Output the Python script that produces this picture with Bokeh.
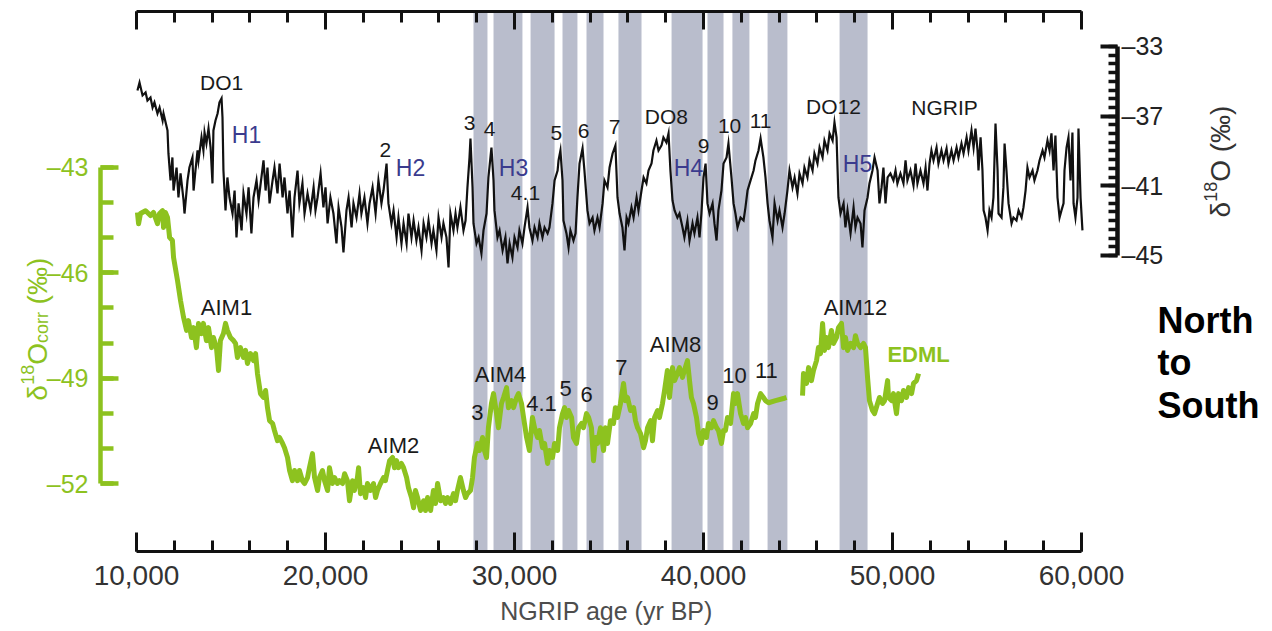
import math
from bokeh.plotting import figure
from bokeh.models import Range1d, LinearAxis, FixedTicker, BoxAnnotation, Label
from bokeh.core.properties import value
from bokeh.embed import file_html
from bokeh.resources import INLINE

NAN = float("nan")

# ---------------- data ----------------
# NGRIP d18O (permil) vs NGRIP age (yr BP)
ngrip_pts = [
    (10050,-35.53),(10160,-35.07),(10320,-35.81),(10480,-35.64),(10580,-36.10),(10740,-35.93),(10850,-36.50),
    (10950,-36.21),(11110,-36.85),(11220,-36.50),(11380,-37.25),(11430,-36.85),(11640,-37.82),(11690,-39.14),
    (11800,-40.69),(11900,-39.37),(11960,-41.27),(12120,-39.95),(12220,-41.67),(12330,-40.29),(12490,-41.84),
    (12540,-42.59),(12700,-40.69),(12800,-39.95),(12960,-39.37),(13020,-41.27),(13120,-40.12),(13230,-38.97),
    (13280,-39.54),(13440,-38.22),(13540,-38.97),(13600,-37.94),(13700,-38.57),(13810,-37.71),(13920,-38.80),
    (14020,-40.86),(14070,-37.82),(14180,-37.25),(14290,-36.85),(14390,-36.21),(14500,-35.98),(14550,-37.08),
    (14600,-40.12),(14710,-42.41),(14810,-40.52),(14920,-41.67),(15080,-42.59),(15190,-41.27),(15290,-43.96),
    (15400,-42.01),(15560,-43.56),(15660,-41.44),(15820,-42.59),(15930,-41.09),(16080,-43.73),(16190,-41.67),
    (16350,-40.69),(16460,-41.84),(16610,-40.52),(16720,-39.54),(16830,-41.27),(16930,-39.95),(17040,-42.01),
    (17200,-40.69),(17300,-39.95),(17460,-41.44),(17570,-39.72),(17730,-41.67),(17830,-40.52),(17990,-42.59),
    (18100,-41.27),(18250,-43.96),(18360,-41.67),(18520,-40.12),(18620,-42.01),(18780,-40.86),(18890,-42.59),
    (19050,-41.44),(19210,-42.41),(19370,-41.09),(19470,-42.41),(19580,-41.67),(19740,-40.29),(19890,-42.24),
    (20000,-41.09),(20110,-43.16),(20260,-41.67),(20420,-42.59),(20580,-44.31),(20690,-42.24),(20850,-43.39),
    (20950,-44.82),(21110,-42.41),(21220,-41.67),(21380,-43.39),(21480,-42.01),(21640,-42.82),(21800,-41.44),
    (21900,-42.59),(22060,-41.67),(22220,-43.16),(22330,-42.01),(22490,-41.09),(22650,-42.59),(22800,-40.69),
    (22960,-42.01),(23070,-41.27),(23230,-39.72),(23330,-42.01),(23490,-43.16),(23600,-42.41),(23760,-43.96),
    (23860,-42.82),(24020,-44.31),(24130,-43.16),(24290,-44.31),(24390,-42.59),(24550,-43.96),(24660,-42.99),
    (24810,-44.14),(24920,-43.39),(25080,-44.71),(25190,-43.16),(25340,-43.96),(25450,-42.99),(25610,-44.31),
    (25710,-43.56),(25870,-44.71),(25980,-42.82),(26140,-43.96),(26240,-43.16),(26400,-43.96),(26510,-45.69),
    (26610,-42.59),(26770,-43.56),(26880,-42.59),(26980,-43.39),(27140,-42.24),(27300,-43.56),(27410,-42.99),
    (27510,-41.09),(27620,-39.37),(27670,-38.28),(27780,-41.09),(27830,-43.16),(27990,-44.31),(28100,-43.96),
    (28250,-44.88),(28360,-43.56),(28520,-42.59),(28620,-40.52),(28780,-38.80),(28890,-40.69),(28940,-42.41),
    (29100,-43.96),(29210,-43.56),(29370,-44.71),(29520,-43.96),(29630,-45.46),(29740,-44.31),(29890,-45.11),
    (30000,-43.96),(30160,-44.54),(30260,-43.56),(30420,-44.31),(30530,-43.39),(30690,-42.24),(30790,-43.39),
    (30950,-44.14),(31060,-43.39),(31220,-43.96),(31320,-43.16),(31480,-43.96),(31590,-43.39),(31750,-43.73),
    (31850,-43.39),(32010,-42.01),(32120,-40.69),(32280,-40.12),(32330,-39.54),(32430,-38.97),(32540,-40.69),
    (32590,-42.99),(32750,-43.73),(32860,-44.54),(32960,-43.56),(33120,-44.14),(33230,-43.73),(33330,-41.67),
    (33440,-39.72),(33600,-38.85),(33700,-40.12),(33860,-42.41),(33970,-43.16),(34130,-42.82),(34230,-43.56),
    (34390,-42.82),(34500,-43.39),(34660,-42.01),(34760,-40.69),(34920,-41.09),(35030,-39.95),(35190,-39.14),
    (35340,-38.68),(35450,-41.67),(35560,-42.59),(35710,-43.39),(35820,-44.71),(35930,-42.82),(36030,-43.16),
    (36190,-42.24),(36300,-42.82),(36460,-41.67),(36560,-42.41),(36720,-41.27),(36830,-40.52),(36980,-40.86),
    (37090,-40.12),(37250,-39.72),(37350,-38.97),(37510,-38.40),(37620,-38.97),(37780,-38.68),(37880,-38.22),
    (38040,-38.51),(38150,-37.99),(38250,-40.12),(38360,-41.84),(38470,-42.41),(38620,-42.82),(38730,-42.59),
    (38890,-43.39),(38990,-43.96),(39150,-42.99),(39260,-44.14),(39420,-43.16),(39520,-43.73),(39680,-42.82),
    (39790,-43.96),(39890,-42.59),(40000,-40.52),(40110,-39.72),(40210,-42.01),(40320,-42.59),(40480,-42.01),
    (40580,-43.16),(40690,-44.14),(40790,-42.41),(40950,-41.27),(41060,-39.72),(41220,-39.37),(41320,-38.57),
    (41480,-40.52),(41590,-42.01),(41690,-42.59),(41800,-43.39),(41960,-42.82),(42120,-42.99),(42220,-42.24),
    (42330,-41.27),(42490,-40.69),(42650,-40.12),(42750,-39.54),(42910,-38.97),(43020,-38.28),(43170,-39.37),
    (43280,-40.52),(43390,-42.01),(43490,-42.99),(43650,-43.96),(43760,-42.01),(43920,-42.99),(44020,-42.41),
    (44180,-43.39),(44290,-42.59),(44440,-41.27),(44550,-40.12),(44710,-41.09),(44820,-40.52),(44970,-41.44),
    (45080,-40.29),(45240,-40.86),(45340,-39.95),(45500,-40.52),(45610,-39.54),(45770,-40.12),(45870,-39.14),
    (46030,-39.72),(46140,-38.80),(46300,-39.37),(46400,-38.40),(46560,-38.97),(46670,-37.99),(46830,-38.40),
    (46930,-37.36),(47040,-38.22),(47140,-41.67),(47250,-42.59),(47410,-42.01),(47510,-43.39),(47620,-42.41),
    (47780,-43.73),(47940,-42.24),(48040,-43.39),(48150,-42.82),(48310,-43.16),(48410,-44.54),(48520,-42.41),
    (48680,-41.67),(48780,-40.86),(48940,-40.12),(49050,-39.37),(49210,-40.12),(49310,-42.01),(49420,-41.09),
    (49520,-39.95),(49630,-42.01),(49740,-40.52),(49890,-40.29),(50050,-40.69),(50160,-40.12),(50260,-40.86),
    (50420,-40.29),(50580,-40.86),(50690,-39.54),(50790,-40.69),(50950,-40.12),(51110,-40.98),(51220,-39.72),
    (51320,-40.86),(51480,-40.12),(51640,-40.86),(51750,-39.95),(51850,-41.27),(51960,-39.72),(52060,-38.97),
    (52170,-39.54),(52330,-38.80),(52430,-39.72),(52590,-38.97),(52700,-39.54),(52860,-38.85),(52960,-39.72),
    (53120,-38.97),(53230,-39.54),(53390,-38.80),(53490,-39.37),(53650,-38.57),(53760,-39.14),(53920,-38.22),
    (54020,-38.97),(54180,-37.82),(54290,-38.80),(54390,-37.71),(54500,-38.97),(54550,-40.12),(54660,-38.22),
    (54760,-40.12),(54820,-42.41),(54920,-42.82),(55030,-43.56),(55130,-42.41),(55240,-42.82),(55340,-41.67),
    (55450,-37.42),(55560,-40.12),(55610,-42.59),(55770,-42.82),(55870,-41.09),(55930,-38.57),(56030,-40.12),
    (56140,-42.01),(56300,-43.16),(56400,-42.82),(56560,-42.99),(56670,-42.41),(56830,-42.82),(56930,-42.24),
    (57040,-41.27),(57140,-39.95),(57250,-40.52),(57410,-40.12),(57510,-40.69),(57670,-40.12),(57780,-39.54),
    (57940,-38.97),(58040,-39.37),(58200,-38.40),(58310,-38.97),(58410,-37.99),(58520,-40.12),(58620,-38.11),
    (58730,-41.67),(58840,-42.82),(58940,-42.41),(59050,-42.01),(59100,-40.12),(59210,-38.80),(59310,-38.22),
    (59420,-40.69),(59520,-37.94),(59580,-42.01),(59680,-42.82),(59790,-41.67),(59840,-37.71),(59950,-41.67),
    (60050,-43.56),
]
ngrip_age = [a for a, _ in ngrip_pts]
ngrip_d18o = [v for _, v in ngrip_pts]

# EDML d18O_corr (permil); NAN marks the data gap
edml_pts = [
    (10050,-44.28),(10110,-44.60),(10210,-44.31),(10480,-44.23),(10740,-44.37),(10900,-44.28),(11110,-44.60),
    (11220,-44.31),(11380,-44.23),(11430,-44.71),(11530,-44.28),(11640,-44.42),(11750,-44.99),(11900,-45.08),
    (11960,-45.56),(12170,-46.22),(12330,-46.79),(12490,-47.27),(12650,-47.64),(12750,-47.36),(12910,-47.84),
    (13020,-47.56),(13170,-48.13),(13280,-47.44),(13440,-47.73),(13540,-47.44),(13700,-47.93),(13810,-47.56),
    (13970,-48.13),(14070,-47.84),(14230,-48.13),(14340,-48.78),(14440,-47.93),(14600,-47.73),(14710,-47.44),
    (14810,-47.64),(14970,-47.84),(15130,-47.93),(15240,-48.01),(15340,-48.41),(15500,-48.13),(15660,-48.41),
    (15770,-48.21),(15870,-48.58),(16030,-48.30),(16190,-48.50),(16300,-48.30),(16400,-48.87),(16560,-49.44),
    (16720,-49.55),(16830,-49.35),(16930,-49.84),(17040,-50.21),(17200,-50.29),(17300,-50.49),(17460,-50.78),
    (17570,-50.69),(17730,-50.86),(17830,-50.98),(17990,-51.26),(18100,-51.63),(18250,-51.92),(18360,-51.63),
    (18520,-51.92),(18620,-51.63),(18780,-51.92),(18890,-52.00),(19050,-51.83),(19150,-51.55),(19310,-51.15),
    (19420,-51.83),(19580,-52.20),(19680,-51.83),(19840,-51.63),(19950,-51.92),(20110,-52.20),(20210,-51.55),
    (20370,-52.00),(20480,-51.83),(20630,-52.00),(20740,-51.92),(20900,-52.00),(21010,-51.72),(21160,-51.92),
    (21270,-52.49),(21430,-51.92),(21530,-52.20),(21690,-51.83),(21750,-51.55),(21850,-52.29),(22010,-52.12),
    (22120,-52.40),(22220,-52.00),(22380,-52.20),(22540,-52.00),(22650,-52.40),(22750,-52.20),(22910,-52.00),
    (23070,-51.83),(23170,-51.92),(23280,-51.63),(23390,-51.35),(23550,-51.26),(23650,-51.55),(23760,-51.35),
    (23860,-51.55),(24020,-51.43),(24130,-51.55),(24290,-51.83),(24390,-52.12),(24550,-52.40),(24660,-52.69),
    (24760,-52.20),(24870,-52.40),(25030,-52.77),(25190,-52.49),(25290,-52.77),(25400,-52.40),(25560,-52.77),
    (25710,-52.20),(25820,-52.57),(25930,-52.00),(26090,-52.49),(26240,-52.40),(26350,-52.57),(26460,-52.40),
    (26610,-52.57),(26770,-52.29),(26880,-52.49),(26980,-52.20),(27140,-51.83),(27300,-52.20),(27410,-52.40),
    (27510,-52.29),(27670,-52.20),(27780,-51.83),(27880,-51.26),(28040,-50.86),(28150,-51.06),(28310,-50.69),
    (28410,-51.06),(28520,-51.26),(28620,-50.41),(28780,-49.72),(28890,-49.44),(29050,-50.01),(29150,-50.41),
    (29310,-49.72),(29420,-49.55),(29580,-49.27),(29680,-49.84),(29840,-49.64),(29950,-49.84),(30110,-49.55),
    (30210,-49.44),(30370,-49.72),(30480,-50.12),(30640,-50.69),(30790,-51.06),(30950,-50.12),(31060,-50.41),
    (31220,-50.69),(31320,-50.49),(31480,-50.98),(31590,-50.86),(31750,-51.43),(31850,-51.06),(32010,-51.26),
    (32120,-50.86),(32280,-51.06),(32380,-50.41),(32540,-50.01),(32650,-49.84),(32750,-50.12),(32860,-49.92),
    (33020,-50.12),(33120,-50.69),(33280,-50.86),(33390,-50.41),(33550,-50.29),(33650,-50.41),(33810,-50.01),
    (33920,-50.12),(34070,-50.41),(34180,-51.35),(34290,-50.69),(34390,-50.86),(34550,-50.41),(34710,-51.06),
    (34810,-50.41),(34920,-50.86),(35080,-50.21),(35240,-50.29),(35340,-49.84),(35450,-50.12),(35610,-49.72),
    (35770,-49.15),(35870,-49.64),(35980,-49.55),(36140,-49.92),(36300,-49.84),(36400,-50.21),(36510,-50.41),
    (36670,-50.58),(36830,-50.98),(36930,-50.78),(37040,-50.41),(37200,-50.21),(37300,-50.78),(37410,-50.12),
    (37570,-49.92),(37670,-50.12),(37830,-49.72),(37940,-49.35),(38090,-48.78),(38200,-49.55),(38360,-48.70),
    (38470,-49.07),(38620,-48.87),(38730,-48.70),(38890,-48.98),(38990,-48.78),(39150,-48.50),(39260,-49.07),
    (39360,-49.55),(39470,-49.72),(39630,-50.12),(39740,-50.58),(39890,-50.86),(40000,-50.49),(40160,-50.69),
    (40260,-50.29),(40420,-50.41),(40530,-50.21),(40690,-50.41),(40790,-50.49),(40950,-50.86),(41060,-50.49),
    (41160,-50.49),(41270,-50.12),(41430,-50.29),(41590,-49.44),(41690,-49.72),(41800,-49.44),(41960,-50.01),
    (42120,-50.29),(42220,-50.12),(42330,-50.41),(42490,-50.29),(42650,-50.01),(42750,-50.12),(42860,-49.72),
    (43020,-49.44),(43170,-49.55),(43280,-49.64),(43440,-49.70),(43810,-49.64),(44230,-49.58),(44390,-49.55),
    (44800,NAN),
    (45240,-49.50),(45290,-48.87),(45450,-49.15),(45560,-48.70),(45710,-49.07),(45820,-48.78),(45980,-48.50),
    (46080,-48.13),(46190,-48.30),(46300,-47.44),(46400,-48.21),(46510,-47.84),(46610,-48.13),(46770,-47.64),
    (46880,-48.01),(47040,-47.84),(47140,-47.56),(47300,-47.44),(47410,-48.13),(47510,-47.84),(47620,-48.21),
    (47780,-48.01),(47940,-48.13),(48040,-47.79),(48150,-48.01),(48310,-48.13),(48470,-48.01),(48570,-48.13),
    (48680,-48.98),(48780,-49.64),(48940,-49.92),(49050,-50.01),(49210,-49.72),(49310,-49.55),(49470,-49.72),
    (49580,-49.64),(49740,-49.07),(49790,-49.55),(49950,-49.64),(50050,-49.44),(50210,-50.01),(50320,-49.44),
    (50480,-49.64),(50580,-49.35),(50740,-49.55),(50850,-49.27),(51010,-49.44),(51110,-49.15),(51270,-49.07),
    (51380,-48.87),
]
edml_age = [a for a, _ in edml_pts]
edml_d18o = [v for _, v in edml_pts]

# Greenland stadials (shaded bands), yr BP
stadial_start = [27830, 28890, 30850, 32540, 33810, 35500, 38310, 40210, 41530, 43390, 47200]
stadial_end   = [28570, 30420, 32120, 33330, 34710, 36720, 39950, 41060, 42430, 44440, 48680]

# tick values
age_major = [10000, 20000, 30000, 40000, 50000, 60000]
age_minor = list(range(10000, 60001, 2000))
age_labels = ["10,000", "20,000", "30,000", "40,000", "50,000", "60,000"]
edml_major = [-52, -49, -46, -43]
edml_minor = [-52, -51, -50, -49, -48, -47, -46, -45, -44, -43]
ngrip_major = [-45, -41, -37, -33]
ngrip_minor = [-45 + 0.5 * i for i in range(25)]

# event labels
ngrip_event_text = ["DO1", "2", "3", "4", "4.1", "5", "6", "7", "DO8", "9", "10", "11", "DO12", "NGRIP"]
ngrip_event_age  = [14500, 23170, 27620, 28680, 30580, 32220, 33650, 35290, 38040, 40000, 41380, 43020, 46880, 52750]
ngrip_event_val  = [-35.07, -38.97, -37.42, -37.71, -41.44, -37.99, -37.88, -37.65, -37.02, -38.74, -37.59, -37.25, -36.44, -36.50]
heinrich_text = ["H1", "H2", "H3", "H4", "H5"]
heinrich_age  = [15820, 24500, 29950, 39210, 48150]
heinrich_val  = [-38.11, -39.95, -40.00, -40.00, -39.72]
aim_text = ["AIM1", "AIM2", "AIM4", "3", "4.1", "5", "6", "7", "AIM8", "9", "10", "11", "AIM12"]
aim_age  = [14760, 23600, 29260, 28040, 31430, 32700, 33810, 35660, 38520, 40480, 41640, 43330, 48040]
aim_val  = [-46.99, -50.92, -48.90, -49.98, -49.72, -49.30, -49.47, -48.70, -48.04, -49.70, -48.93, -48.78, -46.99]

# ---------------- styling ----------------
FONT = "Liberation Sans"
GREEN = "#8dc21f"
BLACK = "#111111"
BLUE = "#3b3b8e"
BAND = "#b9bdcc"

# frame covers the whole canvas; axes are pinned with fixed_location
p = figure(width=1268, height=628, output_backend="svg", toolbar_location=None,
           x_range=Range1d(2804.2, 69894.2), y_range=Range1d(-56.1297, -38.2437),
           x_axis_location=None, y_axis_location=None,
           min_border_left=0, min_border_right=0, min_border_top=0, min_border_bottom=0)
p.extra_y_ranges = {"ngrip": Range1d(-66.4163, -30.3589)}
p.outline_line_color = None
p.xgrid.visible = False
p.ygrid.visible = False
p.background_fill_color = "white"
p.border_fill_color = "white"

Y_TOP = -38.557     # EDML units at the top axis
Y_BOTTOM = -53.937  # EDML units at the bottom axis
X_LEFT = 8095.2     # age at the left (EDML) axis line
X_RIGHT = 61904.8   # age at the right (NGRIP) axis line

for s, e in zip(stadial_start, stadial_end):
    p.add_layout(BoxAnnotation(left=s, right=e, top=Y_TOP, bottom=Y_BOTTOM,
                               fill_color=BAND, fill_alpha=1.0, line_color=None,
                               level="underlay"))

p.line(ngrip_age, ngrip_d18o, y_range_name="ngrip", line_color=BLACK, line_width=2.2,
       line_join="miter")
p.line(edml_age, edml_d18o, line_color=GREEN, line_width=5, line_join="round")

# ---------------- axes ----------------
age_ticker = FixedTicker(ticks=age_major, minor_ticks=age_minor)
common_x = dict(ticker=age_ticker, bounds=(10000, 60000), axis_line_width=3,
                axis_line_color="#111111", major_tick_line_width=3, minor_tick_line_width=3,
                major_tick_line_color="#111111", minor_tick_line_color="#111111",
                major_tick_out=0, minor_tick_out=0)
xb = LinearAxis(fixed_location=Y_BOTTOM, major_tick_in=19, minor_tick_in=11,
                major_label_standoff=14,
                major_label_overrides={t: l for t, l in zip(age_major, age_labels)},
                major_label_text_font=FONT, major_label_text_font_size="28px",
                major_label_text_color="#333333", **common_x)
p.add_layout(xb, "below")
xt = LinearAxis(fixed_location=Y_TOP, major_tick_in=18, minor_tick_in=11,
                major_label_overrides={t: "" for t in age_major}, **common_x)
p.add_layout(xt, "above")

yl = LinearAxis(fixed_location=X_LEFT,
                ticker=FixedTicker(ticks=edml_major, minor_ticks=edml_minor), bounds=(-52, -43),
                axis_line_color=GREEN, axis_line_width=4.5,
                major_tick_line_color=GREEN, minor_tick_line_color=GREEN,
                major_tick_line_width=4.5, minor_tick_line_width=4.5,
                major_tick_in=18, major_tick_out=0, minor_tick_in=13, minor_tick_out=0,
                major_label_standoff=12,
                major_label_overrides={t: "\u2013" + str(abs(t)) for t in edml_major},
                major_label_text_font=FONT, major_label_text_font_size="25px",
                major_label_text_color=GREEN)
p.add_layout(yl, "left")

yr = LinearAxis(fixed_location=X_RIGHT, y_range_name="ngrip",
                ticker=FixedTicker(ticks=ngrip_major, minor_ticks=ngrip_minor), bounds=(-45, -33),
                axis_line_color="#111111", axis_line_width=4.5,
                major_tick_line_color="#111111", minor_tick_line_color="#111111",
                major_tick_line_width=4, minor_tick_line_width=3.5,
                major_tick_in=17, major_tick_out=0, minor_tick_in=9, minor_tick_out=0,
                major_label_standoff=4,
                major_label_overrides={t: "\u2013" + str(abs(t)) for t in ngrip_major},
                major_label_text_font=FONT, major_label_text_font_size="25px",
                major_label_text_color="#222222")
p.add_layout(yr, "right")

# ---------------- in-plot labels ----------------
p.text(x=ngrip_event_age, y=ngrip_event_val, text=ngrip_event_text, y_range_name="ngrip",
       text_font=value(FONT), text_font_size="21px", text_color="#1a1a1a",
       text_align="center", text_baseline="middle")
p.text(x=heinrich_age, y=heinrich_val, text=heinrich_text, y_range_name="ngrip",
       text_font=value(FONT), text_font_size="23px", text_color=BLUE,
       text_align="center", text_baseline="middle")
p.text(x=aim_age, y=aim_val, text=aim_text,
       text_font=value(FONT), text_font_size="22px", text_color="#1a1a1a",
       text_align="center", text_baseline="middle")
p.add_layout(Label(x=51380, y=-48.33, text="EDML", text_font=FONT, text_font_size="22px",
                   text_font_style="bold", text_color=GREEN, text_align="center",
                   text_baseline="middle"))

# ---------------- axis titles ----------------
def piece(txt, x, y, size, color, rng="default"):
    p.add_layout(Label(x=x, y=y, y_range_name=rng, text=txt, angle=math.pi / 2,
                       text_font=FONT, text_font_size=size, text_color=color,
                       text_align="left", text_baseline="alphabetic"))

# left: d18O_corr (permil), green
piece("\u03b4", 4762, -49.64, "28px", GREEN)
piece("18", 4233, -49.19, "18px", GREEN)
piece("O", 4762, -48.62, "28px", GREEN)
piece("corr", 5026, -48.00, "18px", GREEN)
piece("(\u2030)", 4762, -46.90, "28px", GREEN)
# right: d18O (permil)
piece("\u03b4", 67354, -42.82, "28px", "#333333", "ngrip")
piece("18", 66825, -41.92, "18px", "#333333", "ngrip")
piece("O", 67354, -40.77, "28px", "#333333", "ngrip")
piece("(\u2030)", 67354, -39.07, "28px", "#333333", "ngrip")

p.add_layout(Label(x=34868, y=-55.645, text="NGRIP age (yr BP)", text_font=FONT,
                   text_font_size="25px", text_color="#4d4d4d", text_align="center",
                   text_baseline="middle"))

for txt, yv in zip(["North", "to", "South"], [-47.36, -48.56, -49.78]):
    p.add_layout(Label(x=64021, y=yv, text=txt, text_font=FONT, text_font_size="36px",
                       text_font_style="bold", text_color="black", text_align="left",
                       text_baseline="alphabetic"))

open("out.html", "w").write(file_html(p, INLINE))
